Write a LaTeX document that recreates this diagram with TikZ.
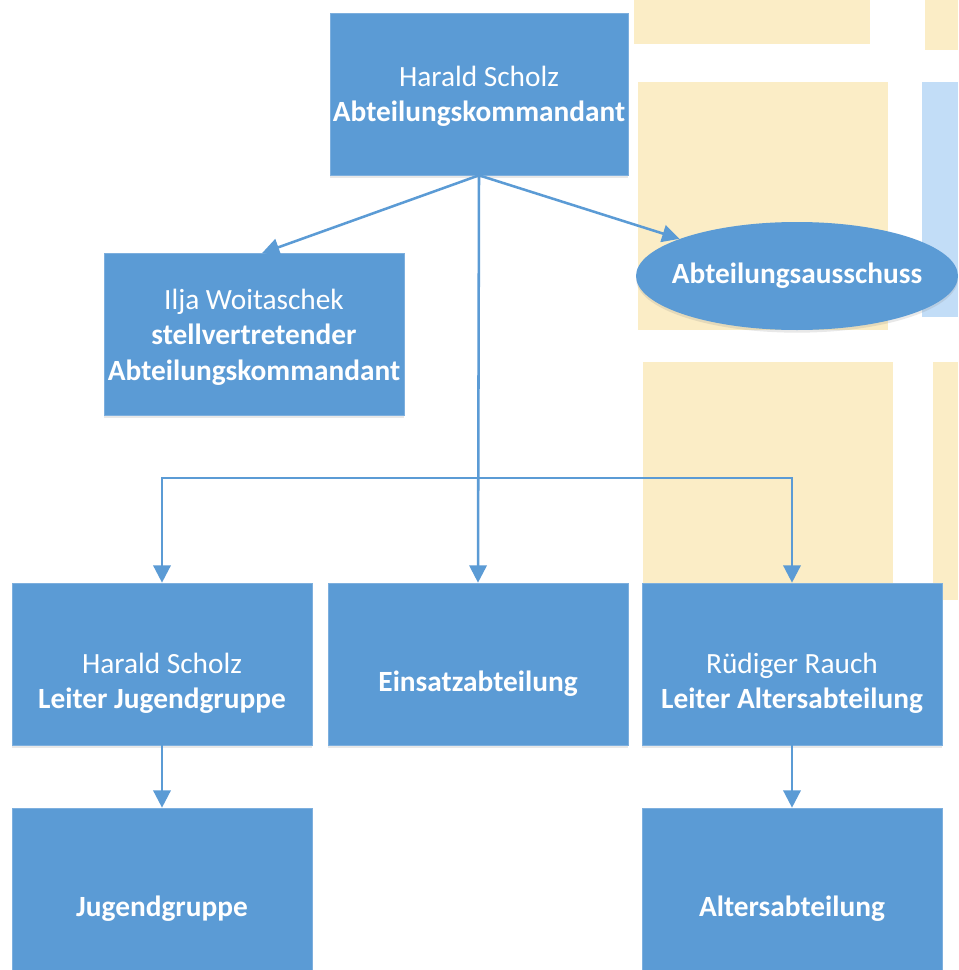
\documentclass[tikz,border=0pt]{standalone}
\usepackage{fontspec}
\setmainfont{Carlito}
\usetikzlibrary{arrows.meta,shadows,shapes.geometric}
\definecolor{boxblue}{RGB}{91,155,213}
\definecolor{boxedge}{RGB}{125,175,222}
\definecolor{mapyellow}{RGB}{251,237,198}
\definecolor{mapblue}{RGB}{194,221,247}
\tikzset{
  boxnode/.style={fill=boxblue, draw=boxedge, line width=0.5pt, minimum width=225pt, minimum height=121.5pt,
    inner sep=0pt, text=white, align=center, font=\fontsize{22}{26.4}\selectfont,
    drop shadow={shadow xshift=0pt, shadow yshift=-2pt, opacity=0.18, fill=gray}},
  ellnode/.style={ellipse, fill=boxblue, minimum width=241.5pt, minimum height=81pt, inner sep=0pt,
    drop shadow={shadow xshift=0pt, shadow yshift=-2pt, opacity=0.18, fill=gray}},
  txtnode/.style={text=white, align=center, inner sep=0pt, font=\fontsize{22}{26.4}\selectfont},
  arr/.style={draw=boxblue, line width=1.9pt, -{Triangle[length=13pt,width=13pt]}}
}
\begin{document}
\begin{tikzpicture}[x=0.75pt,y=-0.75pt]
\useasboundingbox (0,0) rectangle (958,970);
\fill[white] (0,0) rectangle (958,970);
% map background
\fill[mapyellow] (634,0) rectangle (870,44);
\fill[mapyellow] (925,0) rectangle (958,50);
\fill[mapyellow] (638,82) rectangle (888,330);
\fill[mapblue] (922,82) rectangle (958,317);
\fill[mapyellow] (643,362) rectangle (893,600);
\fill[mapyellow] (933,362) rectangle (958,600);
% nodes
\node[boxnode, minimum width=223.5pt] (kdt) at (479,94) {};
\node[txtnode] (kdtt) at ([yshift=-1.8pt]kdt.center) {Harald Scholz\\\textbf{Abteilungskommandant}};
\node[boxnode] (stv) at (254,334.5) {};
\node[txtnode] (stvt) at ([yshift=-2pt]stv.center) {Ilja Woitaschek\\\textbf{stellvertretender}\\\textbf{Abteilungskommandant}};
\node[ellnode] (aus) at (797,276) {};
\node[txtnode] (aust) at (aus.center) {\textbf{Abteilungsausschuss}};
\node[boxnode] (ljg) at (162,664) {};
\node[txtnode] (ljgt) at ([yshift=-14.5pt]ljg.center) {Harald Scholz\\\textbf{Leiter Jugendgruppe}};
\node[boxnode] (ein) at (478,664) {};
\node[txtnode] (eint) at ([yshift=-14.5pt]ein.center) {\textbf{Einsatzabteilung}};
\node[boxnode] (lal) at (792,664) {};
\node[txtnode] (lalt) at ([yshift=-14.5pt]lal.center) {Rüdiger Rauch\\\textbf{Leiter Altersabteilung}};
\node[boxnode] (jug) at (162,889) {};
\node[txtnode] (jugt) at ([yshift=-14.5pt]jug.center) {\textbf{Jugendgruppe}};
\node[boxnode] (alt) at (792,889) {};
\node[txtnode] (altt) at ([yshift=-14.5pt]alt.center) {\textbf{Altersabteilung}};
% connectors
\coordinate (split) at (479,478);
\draw[arr] (kdt.south) -- ([xshift=6pt]stv.north);
\draw[arr] (kdt.south) -- (aus);
\draw[arr] (kdt.south) -- (ein.north);
\draw[arr] (split) -| (ljg.north);
\draw[arr] (split) -| (lal.north);
\draw[arr] (ljg.south) -- (jug.north);
\draw[arr] (lal.south) -- (alt.north);
\end{tikzpicture}
\end{document}
